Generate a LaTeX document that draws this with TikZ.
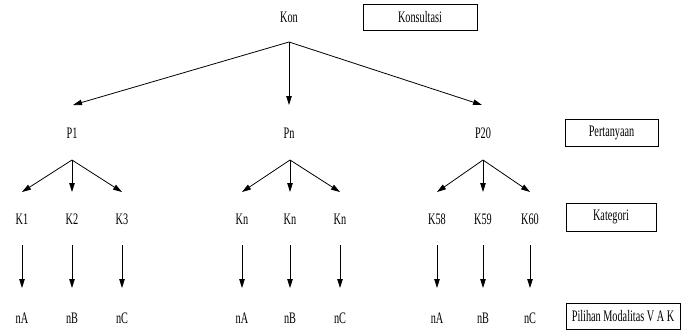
\documentclass[tikz,border=0pt]{standalone}
\usepackage{fontspec}
\setmainfont[FakeStretch=0.64]{Liberation Serif}
\usetikzlibrary{arrows.meta}
\begin{document}
\begin{tikzpicture}[x=1pt,y=-1pt,
  lbl/.style={inner sep=0pt,font=\fontsize{16}{18}\selectfont},
  legend/.style={draw,line width=0.8pt,inner sep=0pt,minimum height=26pt,font=\fontsize{16}{18}\selectfont},
  arr/.style={line width=0.8pt,-{Triangle[length=9pt,width=5.5pt]}}]
\useasboundingbox (0,0) rectangle (687,330);

% level labels on the right
\node[legend,minimum width=114pt] (lk) at (420,17) {Konsultasi};
\node[legend,minimum width=93pt,minimum height=27pt] (lp) at (611.5,132.5) {Pertanyaan};
\node[legend,minimum width=90pt,minimum height=28pt] (lc) at (611,217) {Kategori};
\node[legend,minimum width=114pt] (lm) at (623,316) {Pilihan Modalitas V A K};

% root
\node[lbl] (kon) at (289,17) {Kon};
\coordinate (r0) at (289,42);
\coordinate (t1) at (73,105);
\coordinate (t2) at (289,105);
\coordinate (t3) at (482,105);
\draw[arr] (r0) -- (t1);
\draw[arr] (r0) -- (t2);
\draw[arr] (r0) -- (t3);

% questions
\node[lbl] (p1) at (72,133) {P1};
\node[lbl] (pn) at (289,133) {Pn};
\node[lbl] (p20) at (483,133) {P20};

% categories under each question, then one choice under each category
\foreach \g/\cx/\l/\m/\r/\xa/\xb/\xc in {
    a/72/K1/K2/K3/22/72/122,
    b/290/Kn/Kn/Kn/242/290/340,
    c/483/K58/K59/K60/437/483/530} {
  \coordinate (apex\g) at (\cx,160);
  \coordinate (ka\g) at (\xa,192);
  \coordinate (kb\g) at (\xb,192);
  \coordinate (kc\g) at (\xc,192);
  \draw[arr] (apex\g) -- (ka\g);
  \draw[arr] (apex\g) -- (kb\g);
  \draw[arr] (apex\g) -- (kc\g);
  \node[lbl] (Ka\g) at (\xa,219) {\l};
  \node[lbl] (Kb\g) at (\xb,219) {\m};
  \node[lbl] (Kc\g) at (\xc,219) {\r};
  \foreach \s/\x/\n in {a/\xa/nA, b/\xb/nB, c/\xc/nC} {
    \coordinate (top\s\g) at (\x,245);
    \coordinate (tip\s\g) at (\x,288);
    \draw[arr] (top\s\g) -- (tip\s\g);
    \node[lbl] (n\s\g) at (\x,318) {\n};
  }
}
\end{tikzpicture}
\end{document}
